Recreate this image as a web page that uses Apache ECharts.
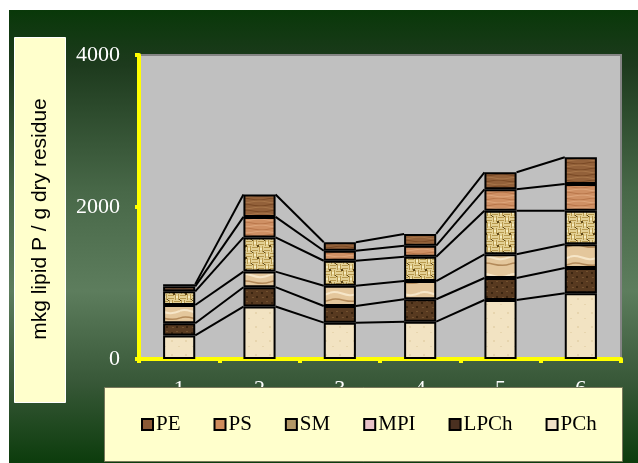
<!DOCTYPE html>
<html><head><meta charset="utf-8">
<script src="https://cdn.jsdelivr.net/npm/echarts@6/dist/echarts.min.js"></script>
<style>html,body{margin:0;padding:0;background:#fff}#c{width:638px;height:463px}</style>
</head><body><div id="c"></div>
<script>
const categories = ['1', '2', '3', '4', '5', '6'];
const PCh  = [310, 690, 478, 491, 776, 864];
const LPCh = [160, 255, 219, 295, 290, 333];
const MPI  = [240, 205, 267, 240, 312, 312];
const SM   = [180, 450, 329, 320, 573, 442];
const PS   = [65, 270, 132, 145, 282, 352];
const PE   = [30, 295, 111, 154, 224, 351];
const yTicks = ['0', '2000', '4000'];
const legendOrder = ['PE', 'PS', 'SM', 'MPI', 'LPCh', 'PCh'];

function makeCanvas(w, h, draw) {
  const c = document.createElement('canvas');
  c.width = w; c.height = h;
  draw(c.getContext('2d'), w, h);
  return c;
}
function wood(base, dark, light) {
  return makeCanvas(32, 18, (g, w, h) => {
    g.fillStyle = base; g.fillRect(0, 0, w, h);
    for (let y = 1; y < h; y += 3) {
      g.strokeStyle = (y % 2) ? dark : light;
      g.lineWidth = 1;
      g.beginPath();
      for (let x = 0; x <= w; x += 2) {
        const yy = y + 0.9 * Math.sin(x / 5 + y);
        if (x === 0) g.moveTo(x, yy); else g.lineTo(x, yy);
      }
      g.stroke();
    }
  });
}
const texPE = wood('#93613a', '#7a4a26', '#a8764a');
const texPS = wood('#cf9064', '#b9774b', '#dea67c');
const texSM = makeCanvas(12, 12, (g) => {
  g.fillStyle = '#e4d196'; g.fillRect(0, 0, 12, 12);
  g.fillStyle = '#b8994e';
  g.fillRect(1, 0, 1, 6); g.fillRect(4, 0, 1, 6);
  g.fillRect(7, 6, 1, 6); g.fillRect(10, 6, 1, 6);
  g.fillRect(6, 1, 6, 1); g.fillRect(6, 4, 6, 1);
  g.fillRect(0, 7, 6, 1); g.fillRect(0, 10, 6, 1);
  g.fillStyle = '#5e4718';
  g.fillRect(5, 5, 2, 2); g.fillRect(11, 11, 1, 1); g.fillRect(0, 0, 1, 1);
  g.fillStyle = '#f6ecc0';
  g.fillRect(2, 2, 2, 2); g.fillRect(8, 8, 2, 2);
});
const texMPI = makeCanvas(30, 18, (g) => {
  g.fillStyle = '#e4c79c'; g.fillRect(0, 0, 30, 18);
  g.strokeStyle = '#f6e6c8'; g.lineWidth = 2;
  g.beginPath(); g.moveTo(0, 5); g.bezierCurveTo(8, 0, 16, 12, 30, 5); g.stroke();
  g.strokeStyle = '#b38a5a'; g.lineWidth = 1.5;
  g.beginPath(); g.moveTo(0, 12); g.bezierCurveTo(10, 8, 18, 17, 30, 12); g.stroke();
});
const texLPCh = makeCanvas(10, 10, (g) => {
  g.fillStyle = '#583a20'; g.fillRect(0, 0, 10, 10);
  g.fillStyle = '#3a2410'; g.fillRect(1, 2, 2, 2); g.fillRect(6, 6, 2, 2);
  g.fillStyle = '#74522f'; g.fillRect(6, 1, 2, 1); g.fillRect(2, 7, 2, 1);
});
const texPCh = makeCanvas(14, 14, (g) => {
  g.fillStyle = '#f2e3c2'; g.fillRect(0, 0, 14, 14);
  g.fillStyle = '#e7d5ae'; g.fillRect(3, 4, 2, 2); g.fillRect(10, 10, 2, 1);
});
const pat = (c) => ({ image: c, repeat: 'repeat' });

const stackDefs = [
  { name: 'PCh', data: PCh, tex: texPCh, legend: '#f1e2c6' },
  { name: 'LPCh', data: LPCh, tex: texLPCh, legend: '#4a3020' },
  { name: 'MPI', data: MPI, tex: texMPI, legend: '#e8c2c8' },
  { name: 'SM', data: SM, tex: texSM, legend: '#b39866' },
  { name: 'PS', data: PS, tex: texPS, legend: '#cf8c5c' },
  { name: 'PE', data: PE, tex: texPE, legend: '#8b5a35' }
];
const cum = categories.map((_, i) => { let s = 0; return stackDefs.map(d => (s += d.data[i])); });

const chart = echarts.init(document.getElementById('c'));
const series = stackDefs.map(d => ({
  name: d.name, type: 'bar', stack: 'total', barWidth: '40%',
  data: d.data,
  itemStyle: { color: pat(d.tex), borderColor: '#000', borderWidth: 2 },
  emphasis: { disabled: true }
}));
series.push({
  type: 'custom', name: 'serieslines', z: 3,
  data: categories.slice(0, -1).map((_, i) => [i]),
  encode: { x: 0 },
  renderItem(params, api) {
    const i = params.dataIndex;
    const half = api.size([1, 0])[0] * 0.2;
    return {
      type: 'group',
      children: cum[i].map((v, k) => {
        const p1 = api.coord([i, v]);
        const p2 = api.coord([i + 1, cum[i + 1][k]]);
        return { type: 'line', shape: { x1: p1[0] + half, y1: p1[1], x2: p2[0] - half, y2: p2[1] },
          style: { stroke: '#000', lineWidth: 2 } };
      })
    };
  }
});

const yMin = Number(yTicks[0]), yMax = Number(yTicks[yTicks.length - 1]);
chart.setOption({
  animation: false,
  grid: { left: 139, right: 17, top: 55, bottom: 104, show: true, backgroundColor: '#c0c0c0', borderColor: '#858585', borderWidth: 2 },
  xAxis: {
    type: 'category', data: categories,
    axisLine: { show: true, lineStyle: { color: '#ffff00', width: 4 } },
    axisTick: { show: true, length: 4, lineStyle: { color: '#ffff00', width: 4 } },
    axisLabel: { color: '#ffffff', fontFamily: 'Liberation Serif', fontSize: 22, margin: 19 }
  },
  yAxis: {
    type: 'value', min: yMin, max: yMax, interval: Number(yTicks[1]) - yMin,
    splitLine: { show: false },
    axisLine: { show: true, lineStyle: { color: '#ffff00', width: 4 } },
    axisTick: { show: true, length: 4, lineStyle: { color: '#ffff00', width: 4 } },
    axisLabel: { color: '#ffffff', fontFamily: 'Liberation Serif', fontSize: 22, margin: 19,
      formatter: (v) => yTicks[yTicks.indexOf(String(v))] || String(v) }
  },
  legend: {
    z: 100, left: 141, top: 414, padding: 0, itemGap: 33, itemWidth: 11, itemHeight: 11,
    icon: 'rect', selectedMode: false,
    textStyle: { color: '#000', fontFamily: 'Liberation Serif', fontSize: 21, padding: [0, 0, 0, -2] },
    data: legendOrder.map(n => {
      const d = stackDefs.find(s => s.name === n);
      return { name: n, itemStyle: { color: d.legend, borderColor: '#000', borderWidth: 2 } };
    })
  },
  graphic: [
    { type: 'rect', z: -10, silent: true, shape: { x: 9, y: 10, width: 629, height: 453 },
      style: { fill: new echarts.graphic.LinearGradient(0, 0, 0, 1, [
        { offset: 0, color: '#093809' }, { offset: 0.12, color: '#1d3a1d' },
        { offset: 0.4, color: '#486848' }, { offset: 0.62, color: '#5d7d5d' },
        { offset: 0.82, color: '#385838' }, { offset: 1, color: '#0c3c0c' }]) } },
    { type: 'rect', z: 1, silent: true, shape: { x: 14.5, y: 37.5, width: 51, height: 365 },
      style: { fill: '#ffffcc', stroke: '#ffffff', lineWidth: 1 } },
    { type: 'text', z: 2, silent: true, x: 40, y: 219, rotation: Math.PI / 2,
      style: { text: 'mkg lipid P / g dry residue', font: '21px "Liberation Sans"', fill: '#000',
        textAlign: 'center', textVerticalAlign: 'middle', align: 'center', verticalAlign: 'middle' } },
    { type: 'rect', z: 50, silent: true, shape: { x: 104.5, y: 387.5, width: 518, height: 74 },
      style: { fill: '#ffffcc', stroke: '#77775a', lineWidth: 1 } }
  ],
  series
});
</script></body></html>
